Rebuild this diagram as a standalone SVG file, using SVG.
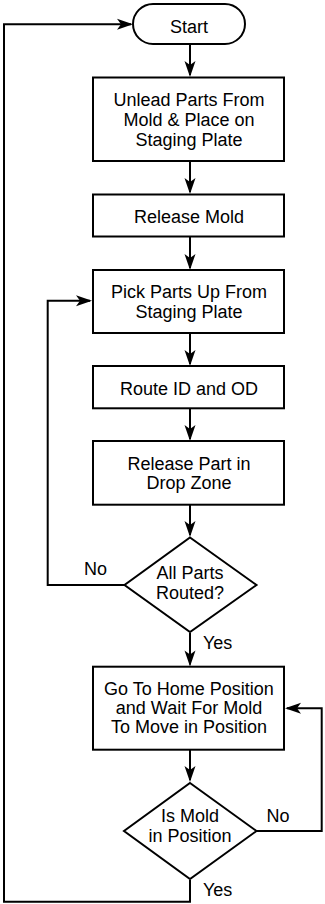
<svg xmlns="http://www.w3.org/2000/svg" width="325" height="904" viewBox="0 0 325 904">
<style>
.n{fill:#fff;stroke:#000;stroke-width:2}
.t{font-family:"Liberation Sans",Arial,sans-serif;font-size:18px;fill:#000;text-anchor:middle}
.l{font-family:"Liberation Sans",Arial,sans-serif;font-size:18px;fill:#000}
.c{fill:none;stroke:#000;stroke-width:2}
</style>
<defs>
<marker id="a" viewBox="-16 -6 18 12" refX="0" refY="0" markerWidth="18" markerHeight="12" markerUnits="userSpaceOnUse" orient="auto">
<path d="M2,0 L-14,-5.5 L-10,0 L-14,5.5 Z" fill="#000"/>
</marker>
</defs>
<rect width="325" height="904" fill="#fff"/>
<g id="connectors">
<path class="c" d="M190,44 V75" marker-end="url(#a)"/>
<path class="c" d="M190,161 V192" marker-end="url(#a)"/>
<path class="c" d="M190,237 V268" marker-end="url(#a)"/>
<path class="c" d="M190,333 V364" marker-end="url(#a)"/>
<path class="c" d="M190,408 V439" marker-end="url(#a)"/>
<path class="c" d="M190,505 V535" marker-end="url(#a)"/>
<path class="c" d="M124,585 H47.7 V300.7 H90" marker-end="url(#a)"/>
<path class="c" d="M190,633 V664.5" marker-end="url(#a)"/>
<path class="c" d="M190,750 V780" marker-end="url(#a)"/>
<path class="c" d="M257,831 H321.7 V708.3 H287" marker-end="url(#a)"/>
<path class="c" d="M190,880 V901.7 H4 V24.3 H131" marker-end="url(#a)"/>
<text class="l" x="84" y="575">No</text>
<text class="l" x="203" y="649">Yes</text>
<text class="l" x="266.5" y="821.5">No</text>
<text class="l" x="203" y="896">Yes</text>
</g>
<g id="start">
<rect class="n" x="133" y="4" width="112" height="40" rx="20"/>
<text class="t" x="189" y="32.5">Start</text>
</g>
<g id="unlead">
<rect class="n" x="93" y="77.5" width="191" height="83.5"/>
<text class="t" x="189" y="106">Unlead Parts From</text>
<text class="t" x="189" y="126">Mold &amp; Place on</text>
<text class="t" x="189" y="146">Staging Plate</text>
</g>
<g id="release-mold">
<rect class="n" x="93" y="194.5" width="191" height="42"/>
<text class="t" x="189" y="222.5">Release Mold</text>
</g>
<g id="pick-parts">
<rect class="n" x="93" y="270" width="191" height="63"/>
<text class="t" x="189" y="298.3">Pick Parts Up From</text>
<text class="t" x="189" y="317.7">Staging Plate</text>
</g>
<g id="route">
<rect class="n" x="93" y="366" width="191" height="42.3"/>
<text class="t" x="189" y="395">Route ID and OD</text>
</g>
<g id="release-part">
<rect class="n" x="93" y="441" width="191" height="63.7"/>
<text class="t" x="189" y="470">Release Part in</text>
<text class="t" x="189" y="489.3">Drop Zone</text>
</g>
<g id="all-parts">
<polygon class="n" points="190,537.5 256.5,585 190,632 124.5,585"/>
<text class="t" x="190" y="579.3">All Parts</text>
<text class="t" x="190" y="599.3">Routed?</text>
</g>
<g id="home">
<rect class="n" x="93" y="666.7" width="191" height="83"/>
<text class="t" x="189" y="695">Go To Home Position</text>
<text class="t" x="189" y="714.3">and Wait For Mold</text>
<text class="t" x="189" y="733.3">To Move in Position</text>
</g>
<g id="mold-in-position">
<polygon class="n" points="190,783 256.5,831 190,879 124,831"/>
<text class="t" x="190" y="821.7">Is Mold</text>
<text class="t" x="190" y="842.3">in Position</text>
</g>
</svg>
